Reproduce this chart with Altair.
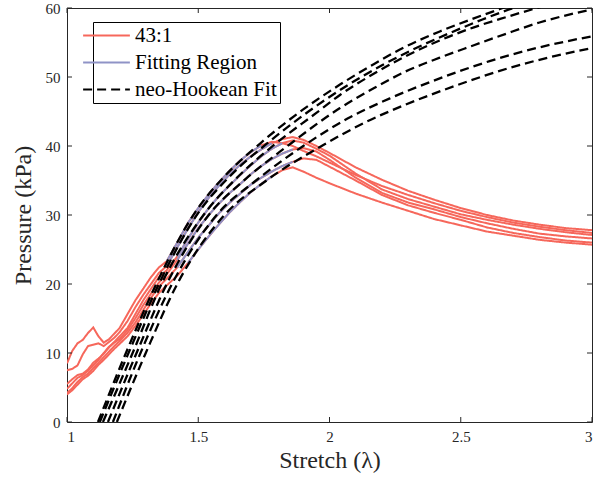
import altair as alt
import pandas as pd

# ---------------- data ----------------
# shared stretch grid of the experimental (43:1) curves
lam = [1.00, 1.02, 1.04, 1.06, 1.08, 1.10, 1.12, 1.14, 1.16, 1.18, 1.20, 1.23, 1.26, 1.29,
       1.32, 1.35, 1.38, 1.42, 1.46, 1.50, 1.54, 1.58, 1.62, 1.66, 1.70, 1.74, 1.78, 1.82,
       1.86, 1.90, 1.95, 2.00, 2.10, 2.20, 2.30, 2.40, 2.50, 2.60, 2.70, 2.80, 2.90, 3.00]

exp1 = [8.5, 10.3, 11.4, 11.9, 12.9, 13.7, 12.4, 11.5, 12.0, 12.8, 13.6, 15.6, 17.6, 19.3,
        21.0, 22.4, 23.3, 26.0, 28.8, 31.0, 33.0, 34.8, 36.4, 37.9, 39.1, 40.1, 40.6, 40.4,
        40.0, 39.3, 38.5, 37.6, 35.8, 34.2, 32.9, 31.7, 30.6, 29.7, 28.9, 28.3, 27.8, 27.4]
exp2 = [7.5, 7.7, 8.2, 9.8, 11.0, 11.2, 11.4, 11.0, 11.6, 12.2, 13.0, 14.6, 16.6, 18.4,
        20.0, 21.6, 22.6, 25.3, 28.0, 30.4, 32.5, 34.3, 35.9, 37.3, 38.5, 39.5, 40.4, 41.0,
        41.3, 40.9, 40.0, 39.0, 36.9, 35.1, 33.5, 32.2, 31.0, 30.0, 29.2, 28.6, 28.1, 27.8]
exp3 = [5.5, 6.2, 6.8, 7.0, 7.6, 8.6, 9.2, 9.9, 10.8, 11.6, 12.4, 13.6, 15.6, 17.6,
        19.3, 21.0, 22.0, 24.0, 26.5, 28.9, 31.0, 32.8, 34.3, 35.8, 37.2, 38.5, 39.6, 40.4,
        40.8, 40.5, 39.6, 38.6, 36.0, 33.7, 32.3, 31.2, 30.1, 29.3, 28.6, 28.0, 27.5, 27.1]
exp4 = [4.8, 5.6, 6.4, 6.8, 7.4, 8.2, 9.0, 10.0, 10.9, 11.5, 12.0, 13.3, 15.0, 16.9,
        18.6, 20.2, 21.4, 23.5, 25.8, 28.1, 30.0, 31.7, 33.2, 34.5, 35.9, 37.1, 38.1, 38.9,
        39.5, 39.7, 39.2, 38.0, 35.4, 33.2, 31.8, 30.8, 29.7, 28.8, 28.0, 27.3, 26.9, 26.6]
exp5 = [4.2, 4.9, 5.8, 6.5, 7.0, 7.8, 8.6, 9.4, 10.2, 11.0, 11.7, 12.9, 14.4, 16.2,
        18.0, 19.6, 20.8, 22.4, 24.6, 26.7, 28.5, 30.3, 31.8, 33.1, 34.4, 35.4, 36.3, 37.1,
        37.7, 38.2, 38.0, 37.0, 35.0, 32.9, 31.4, 30.3, 29.3, 28.2, 27.4, 26.8, 26.3, 26.0]
exp6 = [4.0, 4.6, 5.4, 6.2, 6.7, 7.4, 8.3, 9.0, 9.8, 10.6, 11.3, 12.4, 13.9, 15.5,
        17.2, 18.7, 19.8, 21.2, 23.0, 25.0, 26.9, 28.7, 30.4, 31.9, 33.3, 34.5, 35.6, 36.5,
        36.9, 36.3, 35.4, 34.6, 33.1, 31.8, 30.6, 29.4, 28.5, 27.6, 27.0, 26.4, 26.0, 25.7]
exp_curves = [exp1, exp2, exp3, exp4, exp5, exp6]

# stretch range of the fitting region on each experimental curve
fit_lo = [1.38, 1.38, 1.42, 1.42, 1.42, 1.46]
fit_hi = [1.74, 1.78, 1.82, 1.86, 1.86, 1.78]

# neo-Hookean fits (stretch, pressure)
fitA_lam = [1.118, 1.23, 1.34, 1.49, 1.60, 1.74, 1.90, 2.04, 2.17, 2.29, 2.42, 2.55, 2.66, 2.75]
fitA_p = [0, 10.5, 20, 30.5, 35.6, 40.5, 45.3, 48.9, 51.9, 54.4, 56.6, 58.5, 60, 61.2]
fitB_lam = [1.125, 1.24, 1.35, 1.50, 1.62, 1.76, 1.92, 2.06, 2.20, 2.33, 2.46, 2.58, 2.70, 2.80]
fitB_p = [0, 10.5, 20, 30.3, 35.6, 40.3, 45, 48.6, 51.7, 54.2, 56.4, 58.3, 60, 61.2]
fitC_lam = [1.137, 1.25, 1.36, 1.52, 1.65, 1.79, 1.95, 2.04, 2.17, 2.29, 2.42, 2.55, 2.675, 2.79, 2.90]
fitC_p = [0, 10, 20, 30, 35.5, 40.2, 44.8, 47.4, 50.5, 53.0, 55.3, 57.2, 58.7, 60, 61.2]
fitD_lam = [1.156, 1.265, 1.38, 1.54, 1.68, 1.84, 2.04, 2.17, 2.29, 2.42, 2.55, 2.675, 2.80, 3.0]
fitD_p = [0, 10, 20, 30, 35.2, 40, 45.5, 48.4, 50.8, 52.8, 54.6, 56.3, 57.9, 59.8]
fitE_lam = [1.175, 1.28, 1.40, 1.57, 1.72, 1.90, 2.08, 2.23, 2.42, 2.61, 2.80, 3.0]
fitE_p = [0, 10, 20, 30, 35, 40, 44.2, 46.9, 49.8, 52.3, 54.3, 55.9]
fitF_lam = [1.19, 1.30, 1.42, 1.60, 1.76, 1.97, 2.14, 2.29, 2.485, 2.675, 2.865, 3.0]
fitF_p = [0, 10, 20, 30, 35, 40, 43.5, 46, 48.8, 51.2, 53.1, 54.2]
fits = [(fitA_lam, fitA_p), (fitB_lam, fitB_p), (fitC_lam, fitC_p),
        (fitD_lam, fitD_p), (fitE_lam, fitE_p), (fitF_lam, fitF_p)]

series_names = ["43:1", "Fitting Region", "neo-Hookean Fit"]
x_ticks = [1, 1.5, 2, 2.5, 3]
y_ticks = [0, 10, 20, 30, 40, 50, 60]

# ---------------- tables ----------------
exp_rows, fit_region_rows, fit_rows = [], [], []
for i, pv in enumerate(exp_curves):
    for l, p in zip(lam, pv):
        exp_rows.append({"curve": i, "lam": l, "P": p, "series": series_names[0]})
        if fit_lo[i] - 1e-9 <= l <= fit_hi[i] + 1e-9:
            fit_region_rows.append({"curve": i, "lam": l, "P": p, "series": series_names[1]})
for i, (fl, fp) in enumerate(fits):
    for l, p in zip(fl, fp):
        fit_rows.append({"curve": i, "lam": l, "P": p, "series": series_names[2]})

exp_df = pd.DataFrame(exp_rows)
reg_df = pd.DataFrame(fit_region_rows)
fit_df = pd.DataFrame(fit_rows)

W, H = 525, 414
SERIF = "Liberation Serif"
AX = "#262626"

xs = alt.Scale(domain=[1, 3], nice=False)
ys = alt.Scale(domain=[0, 60], nice=False)

legend_opts = dict(
    title=None, orient="none", legendX=26, legendY=14,
    symbolType="M-2.7,0H2.7", symbolSize=300, symbolStrokeWidth=2,
    labelFont=SERIF, labelFontSize=21, labelColor="#000000",
    labelOffset=18, rowPadding=5, padding=3,
    strokeColor="#000000", fillColor="#ffffff", cornerRadius=0,
)
color = alt.Color(
    "series:N",
    scale=alt.Scale(domain=series_names, range=["#F6675B", "#8F93C6", "#000000"]),
    legend=alt.Legend(**legend_opts),
)
dash = alt.StrokeDash(
    "series:N",
    scale=alt.Scale(domain=series_names, range=[[1, 0], [1, 0], [9, 5]]),
    legend=alt.Legend(**legend_opts),
)

x_enc = alt.X("lam:Q", scale=xs,
              axis=alt.Axis(values=x_ticks, format="~g", title="Stretch (λ)",
                            titleFontSize=24, titlePadding=4))
y_enc = alt.Y("P:Q", scale=ys,
              axis=alt.Axis(values=y_ticks, format="d", title="Pressure (kPa)",
                            titleFontSize=24, titlePadding=10))

exp_layer = alt.Chart(exp_df).mark_line(strokeWidth=2, clip=True).encode(
    x=x_enc, y=y_enc, color=color, strokeDash=dash, detail="curve:N")
reg_layer = alt.Chart(reg_df).mark_line(strokeWidth=2, clip=True).encode(
    x="lam:Q", y="P:Q", color=color, strokeDash=dash, detail="curve:N")
fit_layer = alt.Chart(fit_df).mark_line(strokeWidth=2.3, clip=True, interpolate="monotone").encode(
    x="lam:Q", y="P:Q", color=color, strokeDash=dash, detail="curve:N")

xt_df = pd.DataFrame({"t": x_ticks})
yt_df = pd.DataFrame({"t": y_ticks})
tick_style = dict(color=AX, strokeWidth=1)
xb = alt.Chart(xt_df).mark_rule(**tick_style).encode(x="t:Q", y=alt.value(H), y2=alt.value(H - 5))
xtop = alt.Chart(xt_df).mark_rule(**tick_style).encode(x="t:Q", y=alt.value(0), y2=alt.value(5))
yl = alt.Chart(yt_df).mark_rule(**tick_style).encode(y="t:Q", x=alt.value(0), x2=alt.value(5))
yr = alt.Chart(yt_df).mark_rule(**tick_style).encode(y="t:Q", x=alt.value(W), x2=alt.value(W - 5))

chart = alt.layer(exp_layer, reg_layer, fit_layer, xb, xtop, yl, yr).properties(
    width=W, height=H,
    padding={"left": 67, "top": 8, "right": 14, "bottom": 56},
    autosize=alt.AutoSizeParams(type="none"),
    background="white",
).configure_view(
    stroke=AX, strokeWidth=1
).configure_axis(
    domain=False, ticks=False, grid=False,
    labelFont=SERIF, labelFontSize=15, labelColor=AX, labelPadding=7,
    titleFont=SERIF, titleFontWeight="normal", titleColor=AX,
)

chart.save("out.html", embed_options={"renderer": "svg", "actions": False})
